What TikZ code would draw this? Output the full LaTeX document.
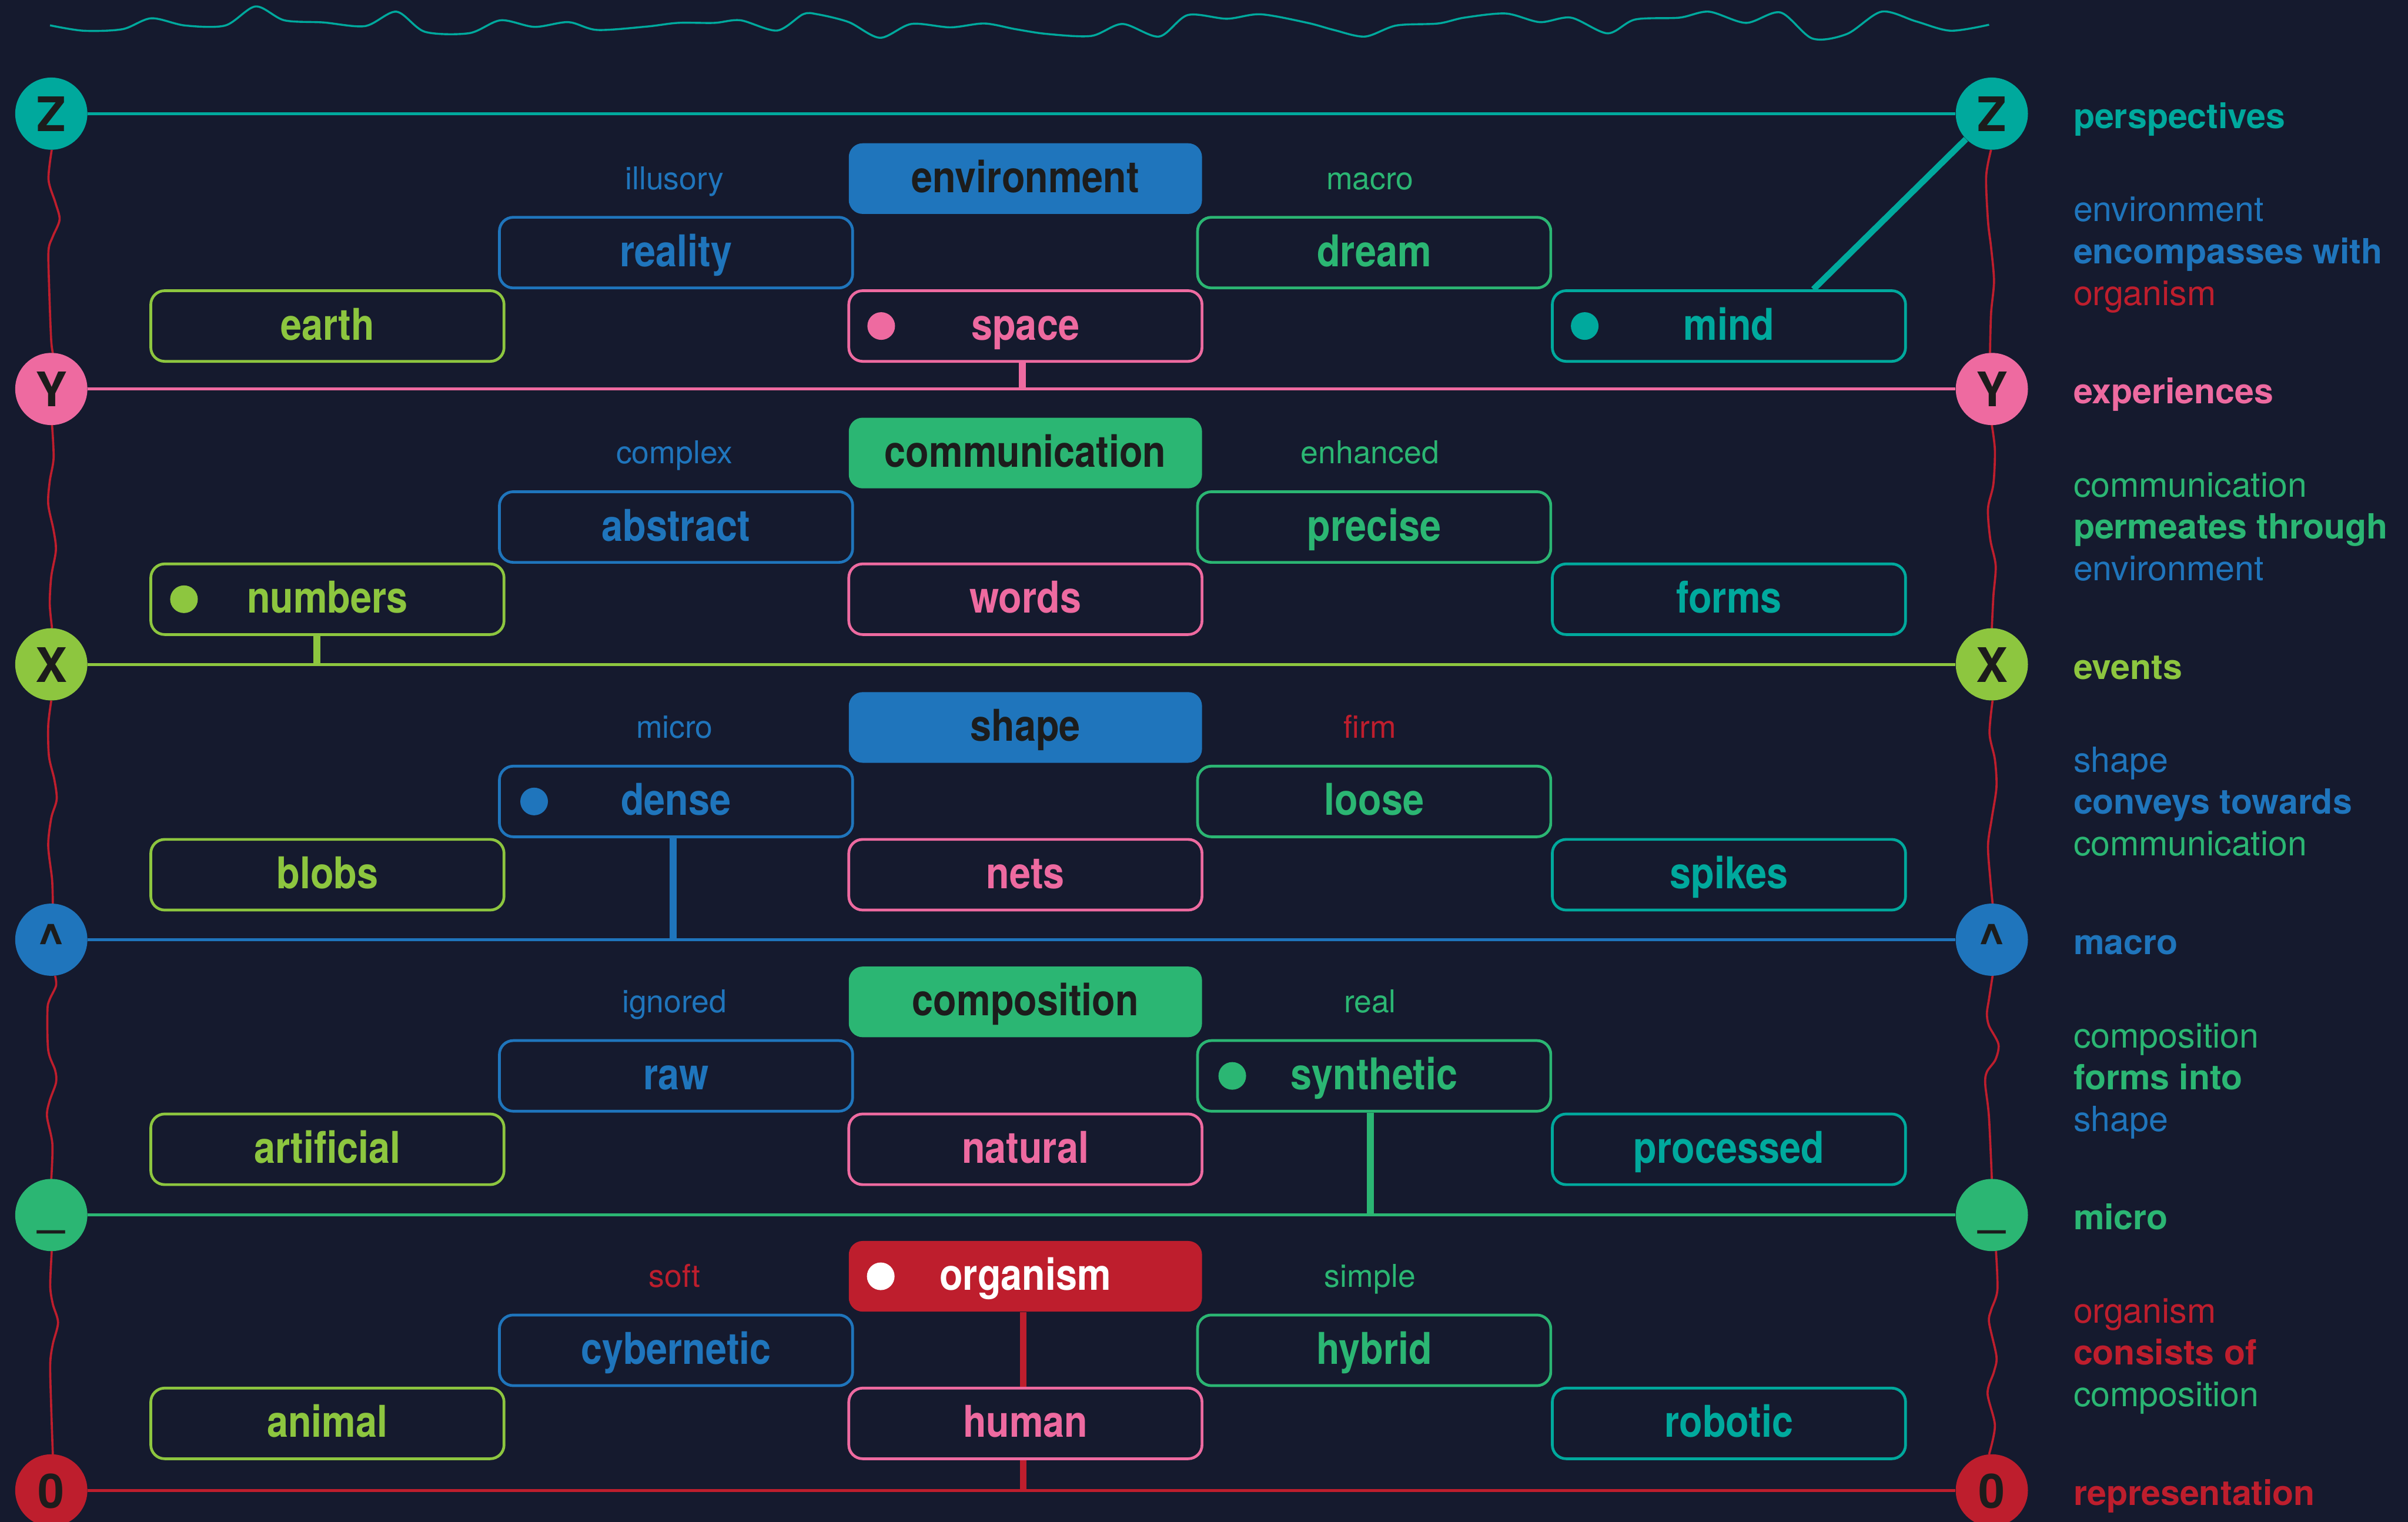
\documentclass[tikz,border=0pt]{standalone}
\usepackage{fontspec}
\setmainfont{TeX Gyre Heros}
\newfontfamily\narrowfont[FakeStretch=0.87]{TeX Gyre Heros}

\definecolor{bg}{HTML}{151A2E}
\definecolor{cteal}{HTML}{00A99D}
\definecolor{cpink}{HTML}{EE6AA0}
\definecolor{clime}{HTML}{8DC63F}
\definecolor{cblue}{HTML}{1F75BC}
\definecolor{cgreen}{HTML}{2BB673}
\definecolor{cred}{HTML}{BE1E2D}
\definecolor{ink}{HTML}{1C1C1C}

\tikzset{
  tag/.style={rounded corners=9pt, minimum width=230pt, minimum height=46pt,
    inner sep=0pt, text height=18pt, text depth=0pt,
    font=\narrowfont\bfseries\fontsize{28.5}{31}\selectfont},
  outl/.style={tag, draw=#1, line width=1.8pt, fill=bg, text=#1},
  head/.style={tag, fill=#1, text=ink},
  hint/.style={inner sep=0pt, text height=14pt, text depth=0pt,
    font=\fontsize{20.5}{23}\selectfont, text=#1},
  disc/.style={circle, fill=#1, minimum size=47pt, inner sep=0pt,
    text height=23pt, text depth=0pt, text=ink,
    font=\bfseries\fontsize{31}{33}\selectfont},
  pip/.style={circle, fill=#1, minimum size=18pt, inner sep=0pt},
  side/.style={anchor=base west, inner sep=0pt, text=#1,
    font=\fontsize{22.6}{26}\selectfont},
  sideb/.style={anchor=base west, inner sep=0pt, text=#1,
    font=\bfseries\fontsize{22.6}{26}\selectfont},
  rule/.style={line width=1.9pt},
  conn/.style={line width=4.5pt},
  wig/.style={cred, line width=1.4pt},
}

\begin{document}
\begin{tikzpicture}[x=1pt,y=-1pt]
\fill[bg] (0,0) rectangle (1568,991);
\useasboundingbox (0,0) rectangle (1568,991);

% wavy rule along the top edge
\draw[cteal, line width=1.3pt] plot[smooth] coordinates {
 (32.6,16.5) (54.3,20.0) (79.8,19.0) (98.5,11.9) (120.5,16.6) (146.7,16.6)
 (166.4,4.2) (185.1,13.2) (210.5,14.6) (237.7,17.0) (258.1,7.6) (276.7,20.7)
 (305.6,21.6) (326.0,13.2) (348.0,17.5) (370.1,14.4) (388.8,19.5) (421.1,17.3)
 (441.4,14.9) (465.2,14.9) (482.2,13.2) (505.9,19.9) (522.9,9.3) (532.3,9.3)
 (552.7,14.4) (573.0,24.6) (593.4,15.6) (618.9,17.8) (641.0,15.3) (661.3,19.0)
 (681.7,22.1) (710.6,23.4) (730.9,15.6) (754.7,23.8) (773.4,9.8) (798.9,12.2)
 (820.9,9.3) (851.5,14.9) (868.5,19.5) (888.8,23.8) (909.2,16.6) (936.4,15.3)
 (953.4,11.5) (980.5,8.8) (1002.6,14.4) (1023.0,11.5) (1046.7,21.7) (1064.7,12.7)
 (1093.5,11.5) (1112.8,7.6) (1136.9,14.9) (1159.3,8.1) (1180.2,25.1) (1202.7,22.1)
 (1225.2,7.6) (1247.6,13.9) (1270.1,20.0) (1295.2,16.1)};

% wavy red threads between the axis discs, left side
\draw[wig, shift={(33.4,74)}] plot[smooth] coordinates {(0.3,23.5) (-1.8,43) (2.7,58) (5.4,69) (1,80) (-1.8,89) (-1.4,113) (-0.1,147) (1,155.8)};
\draw[wig, shift={(33.4,253.3)}] plot[smooth] coordinates {(0.5,23.5) (1.5,45) (-1,60) (-2,75) (1.5,92) (3,105) (0,122) (-1,140) (0.5,155.8)};
\draw[wig, shift={(33.4,432.6)}] plot[smooth] coordinates {(0,23.5) (-2,40) (-1.5,60) (2,75) (3.5,88) (0,100) (-2,118) (0.5,140) (1,155.8)};
\draw[wig, shift={(33.4,611.9)}] plot[smooth] coordinates {(2.5,23.5) (3.1,30) (-1.1,39) (-2.5,46) (-2,72) (2.5,85) (3.1,93) (-1.1,105) (-2.8,115) (0.7,133) (0,155.8)};
\draw[wig, shift={(33.4,791.2)}] plot[smooth] coordinates {(0.3,23.5) (-0.7,46) (1,58) (4.4,70) (1,84) (-0.7,97) (-0.1,124) (1,155.8)};
% right side
\draw[wig, shift={(1297,74)}] plot[smooth] coordinates {(-0.5,23.5) (-3.7,41) (-2.5,70) (-0.5,87) (1.4,109) (-0.5,130) (-1.2,155.8)};
\draw[wig, shift={(1297,253.3)}] plot[smooth] coordinates {(0,23.5) (2,40) (1,62) (-2.5,78) (-1,98) (2.5,115) (1,135) (0,155.8)};
\draw[wig, shift={(1297,432.6)}] plot[smooth] coordinates {(0.5,23.5) (-1.5,45) (2,62) (3,80) (0,100) (-2.5,118) (-1,140) (0.5,155.8)};
\draw[wig, shift={(1297,611.9)}] plot[smooth] coordinates {(0.5,23.5) (-1.9,39) (-3.2,48) (-1.9,56) (4.3,68) (2.4,78) (-3.2,86) (-4.3,94) (-1.9,115) (0,155.8)};
\draw[wig, shift={(1297,791.2)}] plot[smooth] coordinates {(2.7,23.5) (3.6,49) (-0.5,62) (-1.8,70) (3,92) (1.4,102) (-2.8,116) (2,137) (-1.8,155.8)};

% axis discs
\node[disc=cteal]  (zL) at (33.4,74)    {Z};
\node[disc=cteal]  (zR) at (1297,74)    {Z};
\node[disc=cpink]  (yL) at (33.4,253.3) {Y};
\node[disc=cpink]  (yR) at (1297,253.3) {Y};
\node[disc=clime]  (xL) at (33.4,432.6) {X};
\node[disc=clime]  (xR) at (1297,432.6) {X};
\node[disc=cblue]  (cL) at (33.4,611.9) {\^{}};
\node[disc=cblue]  (cR) at (1297,611.9) {\^{}};
\node[disc=cgreen] (uL) at (33.4,791.2) {\raisebox{5pt}{\_}};
\node[disc=cgreen] (uR) at (1297,791.2) {\raisebox{5pt}{\_}};
\node[disc=cred]   (oL) at (33.4,970.5) {0};
\node[disc=cred]   (oR) at (1297,970.5) {0};

% horizontal axis rules
\draw[rule, cteal]  (zL) -- (zR);
\draw[rule, cpink]  (yL) -- (yR);
\draw[rule, clime]  (xL) -- (xR);
\draw[rule, cblue]  (cL) -- (cR);
\draw[rule, cgreen] (uL) -- (uR);
\draw[rule, cred]   (oL) -- (oR);

% ---- band 1: environment
\node[head=cblue] (env) at (667.7,116.3) {environment};
\node[hint=cblue]  (h-illusory) at (439.2,116.3) {illusory};
\node[hint=cgreen] (h-macro)    at (892.1,116.3) {macro};
\node[outl=cblue]  (reality) at (440.2,164.5) {reality};
\node[outl=cgreen] (dream)   at (894.8,164.5) {dream};
\node[outl=clime]  (earth)   at (213.2,212.3) {earth};
\node[outl=cpink]  (space)   at (667.7,212.3) {space};
\node[outl=cteal]  (mind)    at (1125.8,212.3) {mind};
\node[pip=cpink] (space-dot) at ([xshift=22pt]space.west) {};
\node[pip=cteal] (mind-dot)  at ([xshift=22pt]mind.west) {};
\draw[conn, cpink] ([xshift=-2pt]space.south) -- ([xshift=-2pt]space.south |- yL);
\draw[line width=4pt, cteal] ([xshift=55pt]mind.north) -- (zR);

% ---- band 2: communication
\node[head=cgreen] (comm) at (667.7,295.0) {communication};
\node[hint=cblue]  (h-complex)  at (439.2,295.0) {complex};
\node[hint=cgreen] (h-enhanced) at (892.1,295.0) {enhanced};
\node[outl=cblue]  (abstract) at (440.2,343.2) {abstract};
\node[outl=cgreen] (precise)  at (894.8,343.2) {precise};
\node[outl=clime]  (numbers)  at (213.2,390.2) {numbers};
\node[outl=cpink]  (words)    at (667.7,390.2) {words};
\node[outl=cteal]  (forms)    at (1125.8,390.2) {forms};
\node[pip=clime] (numbers-dot) at ([xshift=22.5pt]numbers.west) {};
\draw[conn, clime] ([xshift=-7pt]numbers.south) -- ([xshift=-7pt]numbers.south |- xL);

% ---- band 3: shape
\node[head=cblue] (shape) at (667.7,473.7) {shape};
\node[hint=cblue] (h-micro) at (439.2,473.7) {micro};
\node[hint=cred]  (h-firm)  at (892.1,473.7) {firm};
\node[outl=cblue]  (dense)  at (440.2,521.9) {dense};
\node[outl=cgreen] (loose)  at (894.8,521.9) {loose};
\node[outl=clime]  (blobs)  at (213.2,569.6) {blobs};
\node[outl=cpink]  (nets)   at (667.7,569.6) {nets};
\node[outl=cteal]  (spikes) at (1125.8,569.6) {spikes};
\node[pip=cblue] (dense-dot) at ([xshift=23.5pt]dense.west) {};
\draw[conn, cblue] ([xshift=-2pt]dense.south) -- ([xshift=-2pt]dense.south |- cL);

% ---- band 4: composition
\node[head=cgreen] (compo) at (667.7,652.4) {composition};
\node[hint=cblue]  (h-ignored) at (439.2,652.4) {ignored};
\node[hint=cgreen] (h-real)    at (892.1,652.4) {real};
\node[outl=cblue]  (raw)        at (440.2,700.6) {raw};
\node[outl=cgreen] (synthetic)  at (894.8,700.6) {synthetic};
\node[outl=clime]  (artificial) at (213.2,748.4) {artificial};
\node[outl=cpink]  (natural)    at (667.7,748.4) {natural};
\node[outl=cteal]  (processed)  at (1125.8,748.4) {processed};
\node[pip=cgreen] (synthetic-dot) at ([xshift=23.5pt]synthetic.west) {};
\draw[conn, cgreen] ([xshift=-2.4pt]synthetic.south) -- ([xshift=-2.4pt]synthetic.south |- uL);

% ---- band 5: organism
\node[head=cred, text=white] (organism) at (667.7,831.1) {organism};
\node[hint=cred]   (h-soft)   at (439.2,831.1) {soft};
\node[hint=cgreen] (h-simple) at (892.1,831.1) {simple};
\node[outl=cblue]  (cybernetic) at (440.2,879.3) {cybernetic};
\node[outl=cgreen] (hybrid)     at (894.8,879.3) {hybrid};
\node[outl=clime]  (animal)     at (213.2,926.9) {animal};
\node[outl=cpink]  (human)      at (667.7,926.9) {human};
\node[outl=cteal]  (robotic)    at (1125.8,926.9) {robotic};
\node[pip=white] (organism-dot) at ([xshift=21pt]organism.west) {};
\draw[conn, cred] ([xshift=-1.4pt]organism.south) -- ([xshift=-1.4pt]human.north);
\draw[conn, cred] ([xshift=-1.4pt]human.south) -- ([xshift=-1.4pt]human.south |- oL);

% ---- right-hand legend
\node[sideb=cteal] (t-persp) at (1350,83.6) {perspectives};
\node[side=cblue]  (t-a1) at (1350,144.3) {environment};
\node[sideb=cblue] (t-a2) at (1350,171.5) {encompasses with};
\node[side=cred]   (t-a3) at (1350,198.7) {organism};
\node[sideb=cpink] (t-exp) at (1350,262.9) {experiences};
\node[side=cgreen]  (t-b1) at (1350,323.6) {communication};
\node[sideb=cgreen] (t-b2) at (1350,350.8) {permeates through};
\node[side=cblue]   (t-b3) at (1350,378.0) {environment};
\node[sideb=clime] (t-events) at (1350,442.2) {events};
\node[side=cblue]  (t-c1) at (1350,502.9) {shape};
\node[sideb=cblue] (t-c2) at (1350,530.1) {conveys towards};
\node[side=cgreen] (t-c3) at (1350,557.3) {communication};
\node[sideb=cblue] (t-macro) at (1350,621.5) {macro};
\node[side=cgreen]  (t-d1) at (1350,682.2) {composition};
\node[sideb=cgreen] (t-d2) at (1350,709.4) {forms into};
\node[side=cblue]   (t-d3) at (1350,736.6) {shape};
\node[sideb=cgreen] (t-micro) at (1350,800.8) {micro};
\node[side=cred]   (t-e1) at (1350,861.5) {organism};
\node[sideb=cred]  (t-e2) at (1350,888.7) {consists of};
\node[side=cgreen] (t-e3) at (1350,915.9) {composition};
\node[sideb=cred] (t-repr) at (1350,980.1) {representation};
\end{tikzpicture}
\end{document}
